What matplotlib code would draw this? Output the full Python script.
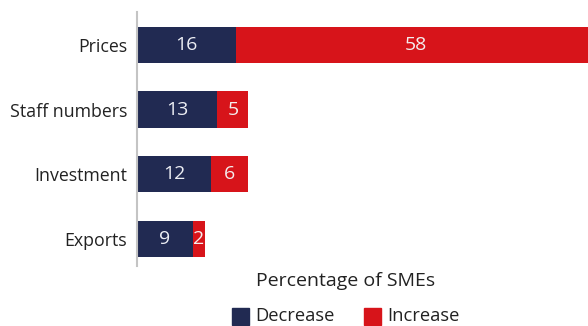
import numpy as np
import matplotlib
matplotlib.use("Agg")
import matplotlib.pyplot as plt
from matplotlib.patches import Rectangle

# share of SMEs reporting a change, by item
categories = ["Prices", "Staff numbers", "Investment", "Exports"]
decrease = [16, 13, 12, 9]
increase = [58, 5, 6, 2]

navy = "#212a52"
red = "#d7141a"

plt.rcParams['font.family'] = ['Open Sans', 'DejaVu Sans']

fig = plt.figure(figsize=(5.88, 3.26), dpi=100)
ax = fig.add_axes([137/588, 1 - 266/326, 1 - 137/588, (266 - 12)/326])

y = np.arange(len(categories))
h = 0.56
ax.barh(y, decrease, height=h, color=navy, zorder=2)
ax.barh(y, increase, left=decrease, height=h, color=red, zorder=2)

for i in range(len(categories)):
    ax.text(decrease[i]/2, y[i], str(decrease[i]), ha='center', va='center',
            color='#eceef4', fontsize=14)
    ax.text(decrease[i] + increase[i]/2, y[i], str(increase[i]), ha='center',
            va='center', color='#f4eeee', fontsize=14)

ax.set_xlim(0, 72.9)
ax.set_ylim(3.42, -0.51)
ax.set_yticks(y)
ax.set_yticklabels(categories, fontsize=12.8, color='#222222')
ax.tick_params(axis='y', length=0, pad=7)
ax.set_xticks([])
for s in ['top', 'right', 'bottom']:
    ax.spines[s].set_visible(False)
ax.spines['left'].set_color('#c4c4c4')
ax.spines['left'].set_linewidth(1.5)

fig.text(346/588, 1 - 281/326, "Percentage of SMEs", ha='center', va='center',
         fontsize=14, color='#222222')

# legend drawn by hand
for x0, col, lab in [(232, navy, "Decrease"), (364, red, "Increase")]:
    fig.patches.append(Rectangle((x0/588, 1 - 325/326), 17/588, 17/326,
                                 transform=fig.transFigure, color=col))
    fig.text((x0 + 23)/588, 1 - 316/326, lab, ha='left', va='center',
             fontsize=13.2, color='#222222')

fig.savefig("out.png", dpi=100)
